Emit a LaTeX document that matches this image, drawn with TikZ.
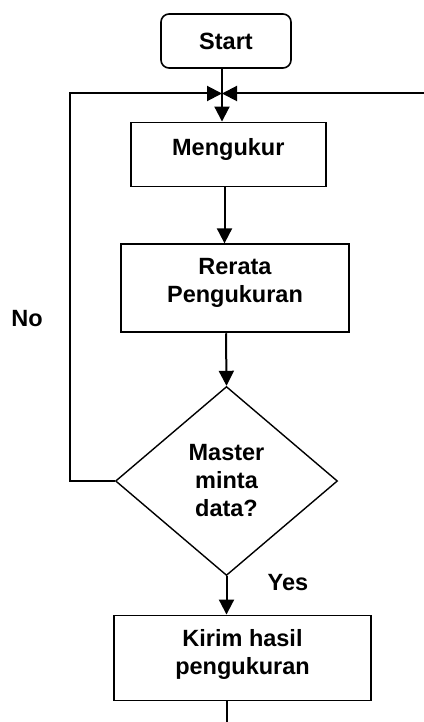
\documentclass[tikz,border=0pt]{standalone}
\usepackage{fontspec}
\setmainfont{Liberation Sans}
\usetikzlibrary{shapes.geometric,arrows.meta}
\newcommand{\liftlines}[2]{\raisebox{#1}[\height][\depth]{\begin{tabular}{@{}c@{}}#2\end{tabular}}}
\begin{document}
\begin{tikzpicture}[x=1pt,y=-1pt,
  txt/.style={font=\bfseries\fontsize{23.5}{28}\selectfont, align=center},
  box/.style={txt, draw, line width=1.9pt, inner sep=0pt},
  startbox/.style={box, line width=1.6pt, rounded corners=8pt, minimum width=130pt, minimum height=54pt},
  decision/.style={txt, draw, diamond, line width=1.4pt, inner sep=0pt, minimum width=222pt, minimum height=189pt},
  conn/.style={line width=2pt},
  flow/.style={conn, -{Triangle[length=15pt,width=15pt]}}
]
\useasboundingbox (0,0) rectangle (423,722);

\node[startbox] (start) at (226,41) {Start};
\node[box, minimum width=195pt, minimum height=64pt] (meng) at (228.3,154.5) {\liftlines{5pt}{Mengukur}};
\node[box, minimum width=228pt, minimum height=88pt] (rer) at (235,288.3) {\liftlines{5pt}{Rerata\\Pengukuran}};
\node[decision] (dec) at (226.5,481) {Master\\minta\\data?};
\node[box, minimum width=257pt, minimum height=85pt] (kirim) at (242.5,658) {\liftlines{3pt}{Kirim hasil\\pengukuran}};

\node[txt] (no) at (27,319) {No};
\node[txt] (yes) at (288,583) {Yes};

\coordinate (j) at (222,93.5);
\coordinate (nl) at (70,93.5);
\coordinate (rend) at (424,93.5);
\coordinate (bend) at (227,723);

\draw[conn] (start.south -| j) -- (j);
\draw[flow] (dec.west) -| (nl) -- (j);
\draw[flow] (rend) -- (j);
\draw[flow] (j) -- (j |- meng.north);
\draw[flow] (224.5,0 |- meng.south) -- (224.5,0 |- rer.north);
\draw[flow] (226,0 |- rer.south) -- (dec.north);
\draw[flow] (dec.south) -- (dec.south |- kirim.north);
\draw[conn] (227,0 |- kirim.south) -- (bend);
\end{tikzpicture}
\end{document}
